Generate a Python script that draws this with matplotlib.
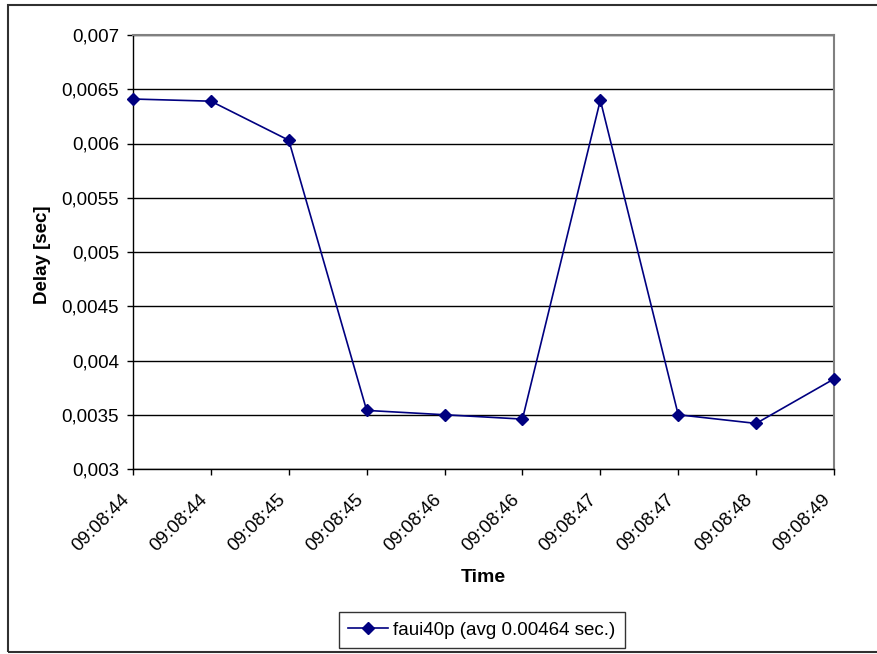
import matplotlib

matplotlib.use("Agg")
import matplotlib.pyplot as plt
import matplotlib.transforms as mtransforms
import numpy as np
from matplotlib.patches import Rectangle

# data
times = ["09:08:44", "09:08:44", "09:08:45", "09:08:45", "09:08:46",
         "09:08:46", "09:08:47", "09:08:47", "09:08:48", "09:08:49"]
delay = [0.00641, 0.00639, 0.00603, 0.00354, 0.00350,
         0.00346, 0.00640, 0.00350, 0.00342, 0.00383]
series_label = "faui40p (avg 0.00464 sec.)"
yticks = [0.003, 0.0035, 0.004, 0.0045, 0.005, 0.0055, 0.006, 0.0065, 0.007]
ytick_labels = ["0,003", "0,0035", "0,004", "0,0045", "0,005",
                "0,0055", "0,006", "0,0065", "0,007"]

plt.rcParams["font.family"] = ["Liberation Sans", "DejaVu Sans"]

W, H = 877, 654
fig = plt.figure(figsize=(W / 100, H / 100), dpi=100)
fig.patch.set_facecolor("white")

ax = fig.add_axes([133 / W, 1 - 469 / H, (834 - 133) / W, (469 - 35) / H])
ax.set_facecolor("white")

x = np.arange(len(times))
ax.plot(x, delay, color="#000080", lw=1.2, marker="D", ms=6.5,
        mfc="#000080", mec="#000080", label=series_label, zorder=3,
        clip_on=False)

ax.set_xlim(0, len(times) - 1)
ax.set_ylim(yticks[0], yticks[-1])
ax.set_yticks(yticks)
ax.set_yticklabels(ytick_labels)
ax.set_xticks(x)

ax.grid(axis="y", color="black", lw=1.0)
ax.set_axisbelow(True)

for side in ("top", "right"):
    ax.spines[side].set_color("#808080")
    ax.spines[side].set_linewidth(1.5)
for side in ("left", "bottom"):
    ax.spines[side].set_color("black")
    ax.spines[side].set_linewidth(1.0)

ax.tick_params(axis="y", length=4, width=1, pad=6, labelsize=13.5)
ax.tick_params(axis="x", length=4, width=1, pad=17, labelsize=13.5)

ax.set_xticklabels(times, rotation=45, ha="right", va="center",
                   rotation_mode="anchor")
# nudge rotated labels a little to the left, as in the original
shift = mtransforms.ScaledTranslation(-6 / 100, 1 / 100, fig.dpi_scale_trans)
for tick in ax.xaxis.get_major_ticks():
    tick.label1.set_transform(tick.label1.get_transform() + shift)

ax.set_ylabel("Delay [sec]", fontsize=13.5, fontweight="bold")
ax.yaxis.set_label_coords(51 / W, 1 - 255 / H, transform=fig.transFigure)
fig.text(483 / W, 1 - 578 / H, "Time", fontsize=14, fontweight="bold",
         ha="center", va="center")

leg = fig.legend(loc="center", bbox_to_anchor=(482 / W, 1 - 630 / H),
                 fontsize=13.5, frameon=True, fancybox=False, handlelength=2.1,
                 borderpad=0.5, handletextpad=0.3)
leg.get_frame().set_edgecolor("black")
leg.get_frame().set_linewidth(1.0)

# outer chart border
fig.patches.append(Rectangle((8 / W, 1 - 652 / H), 1.0, (652 - 5) / H,
                             transform=fig.transFigure, fill=False,
                             edgecolor="#303030", lw=1.5))

fig.savefig("out.png", dpi=100, facecolor="white")
plt.close(fig)
